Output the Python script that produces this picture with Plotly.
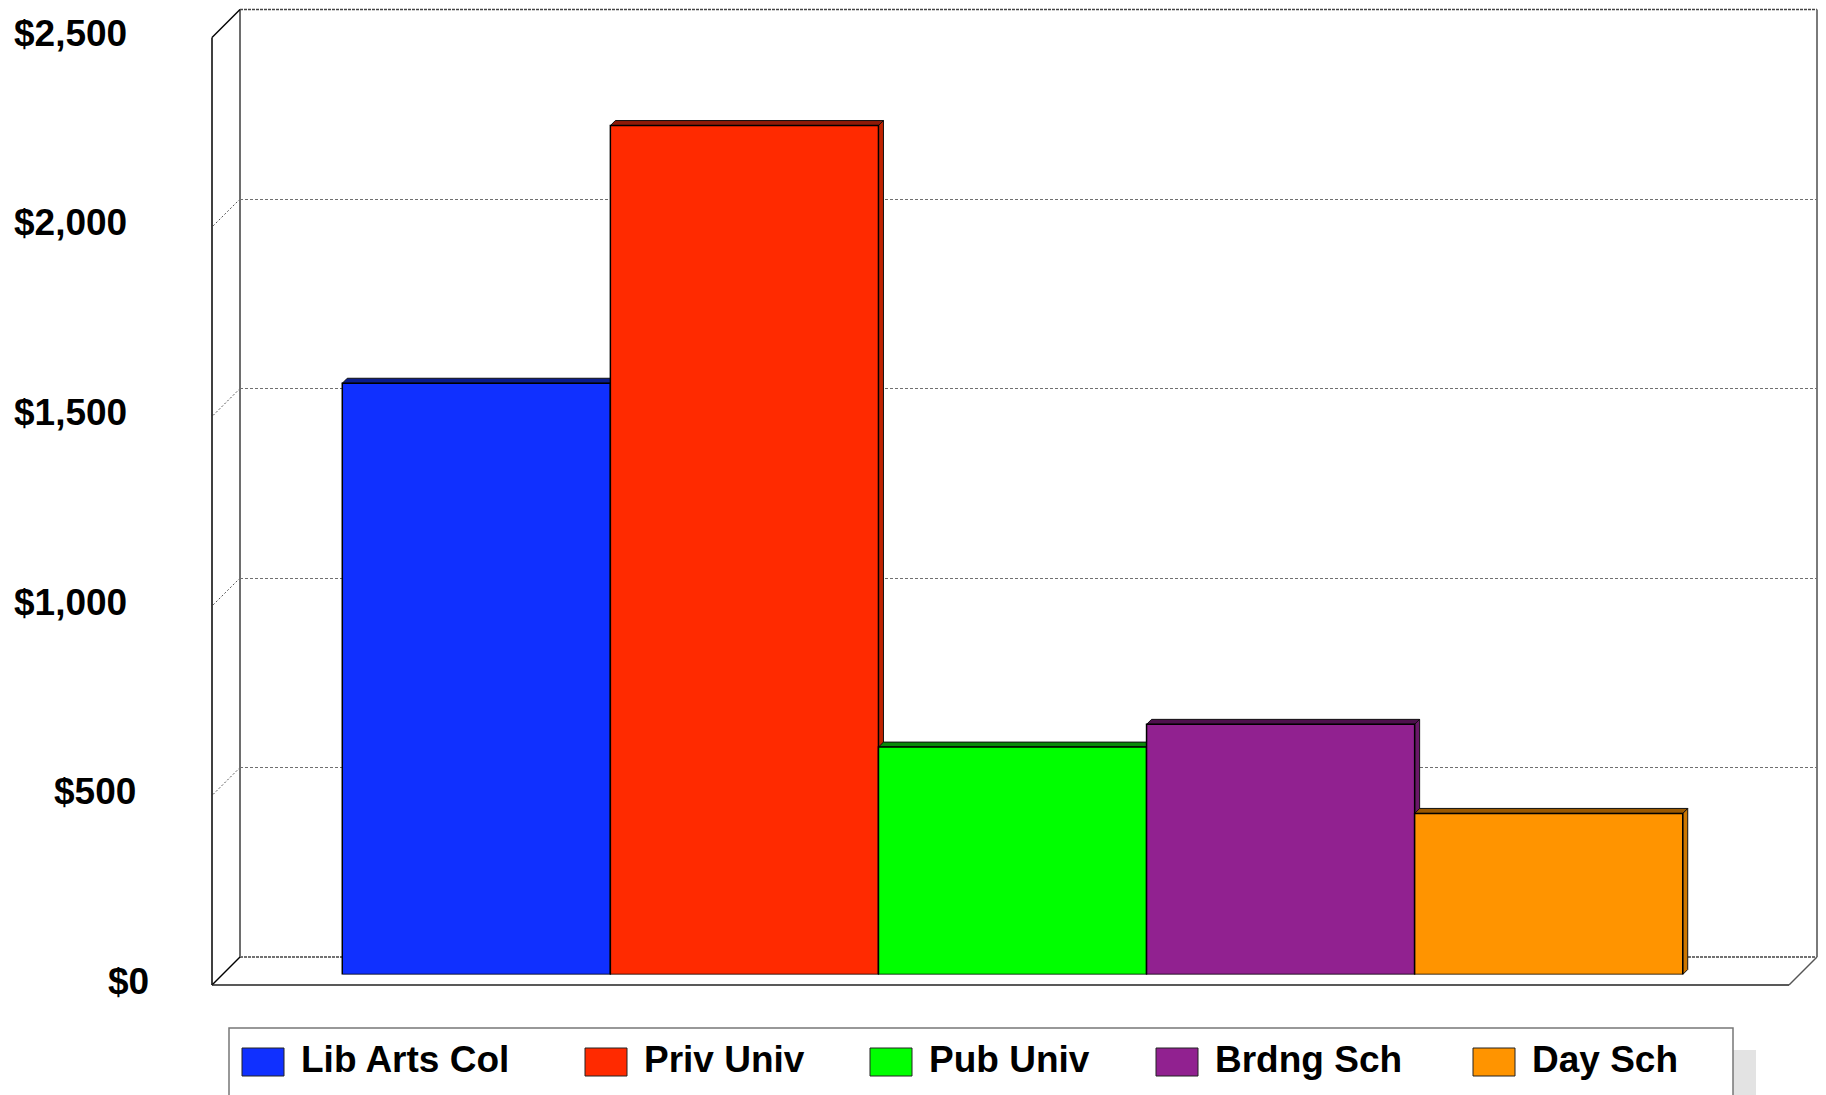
import plotly.graph_objects as go

# ---------------- data ----------------
categories = ["Lib Arts Col", "Priv Univ", "Pub Univ", "Brdng Sch", "Day Sch"]
values = [1560, 2240, 600, 660, 425]
colors = ["#1030FF", "#FF2A00", "#00FF00", "#912190", "#FF9400"]
top_colors = ["#0A1C8C", "#8E1A08", "#0A8A0A", "#4E104D", "#9A5800"]
side_colors = ["#0C24C0", "#C02200", "#00B000", "#6A1868", "#CC7600"]
tick_values = [0, 500, 1000, 1500, 2000, 2500]
tick_labels = ["$0", "$500", "$1,000", "$1,500", "$2,000", "$2,500"]
grid_values = [500, 1000, 1500, 2000]

# ---------------- layout geometry (window pixels) ----------------
W, H = 1826, 1095
OFF = 8                # page body margin
BACK_L, BACK_R, BACK_BOT, BACK_TOP = 240, 1817, 957, 9.5
DEPTH = 28             # depth of the floor / side wall
BAR_DX, BAR_DY = -16, 17.5  # bar plane offset from back wall
EXTR = 5               # bar extrusion depth in px
YMAX = 2500
BARGAP = 0.15
label_right = [151, 138, 129, 129, 129, 129]
legend_sw_x = [242, 585, 870, 1156, 1473]
FONT = "Liberation Sans, Arial, sans-serif"
FSIZE = 37


def fx(p):
    return (p - OFF) / W


def fy(p):
    return 1 - (p - OFF) / H


px_per_unit = (BACK_BOT - BACK_TOP) / YMAX
x_units_per_px = 1.0 / (BACK_R - BACK_L)

fig = go.Figure()

# back wall subplot (gridlines)
fig.add_trace(go.Scatter(x=[], y=[], xaxis="x", yaxis="y", showlegend=False, hoverinfo="skip"))

# extrusion faces (subplot 2, drawn under the bars)
n = len(values)
bw = (1 - BARGAP) / n
dxu = EXTR * x_units_per_px
dyu = EXTR / px_per_unit
for i, v in enumerate(values):
    xl = -(1 - BARGAP) / 2 + i * bw
    xr = xl + bw
    fig.add_trace(go.Scatter(
        x=[xr, xr + dxu, xr + dxu, xr, xr], y=[0, dyu, v + dyu, v, 0],
        fill="toself", fillcolor=side_colors[i], mode="lines",
        line=dict(color="#111111", width=1), xaxis="x2", yaxis="y2",
        showlegend=False, hoverinfo="skip"))
    fig.add_trace(go.Scatter(
        x=[xl, xl + dxu, xr + dxu, xr, xl], y=[v, v + dyu, v + dyu, v, v],
        fill="toself", fillcolor=top_colors[i], mode="lines",
        line=dict(color="#111111", width=1), xaxis="x2", yaxis="y2",
        showlegend=False, hoverinfo="skip"))

# front faces of bars
for i, (cat, v) in enumerate(zip(categories, values)):
    fig.add_trace(go.Bar(
        x=[0], y=[v], name=cat, marker=dict(color=colors[i], line=dict(color="#000000", width=1.5)),
        xaxis="x3", yaxis="y3", showlegend=False))

bar_xdom = [fx(BACK_L + BAR_DX), fx(BACK_R + BAR_DX)]
bar_ydom = [fy(BACK_BOT + BAR_DY), fy(BACK_TOP + BAR_DY)]

hidden = dict(visible=False, fixedrange=True)
fig.update_layout(
    width=W, height=H,
    margin=dict(l=0, r=0, t=0, b=0),
    paper_bgcolor="white", plot_bgcolor="rgba(0,0,0,0)",
    barmode="group", bargap=BARGAP, bargroupgap=0,
    showlegend=False,
    xaxis=dict(domain=[fx(BACK_L), fx(BACK_R)], range=[0, 1], visible=False, anchor="y"),
    yaxis=dict(domain=[fy(BACK_BOT), fy(BACK_TOP)], range=[0, YMAX], anchor="x",
               showgrid=True, gridcolor="#707070", gridwidth=1, griddash="3px,2px",
               tickvals=grid_values, showticklabels=False, ticks="", zeroline=False, showline=False),
    xaxis2=dict(domain=bar_xdom, range=[-0.5, 0.5], anchor="y2", **hidden),
    yaxis2=dict(domain=bar_ydom, range=[0, YMAX], anchor="x2", **hidden),
    xaxis3=dict(domain=bar_xdom, range=[-0.5, 0.5], anchor="y3", **hidden),
    yaxis3=dict(domain=bar_ydom, range=[0, YMAX], anchor="x3", **hidden),
)

shapes = []


def pline(x0, y0, x1, y1, color, width, dash="solid", layer="below"):
    shapes.append(dict(type="line", xref="paper", yref="paper",
                       x0=fx(x0), y0=fy(y0), x1=fx(x1), y1=fy(y1),
                       line=dict(color=color, width=width, dash=dash), layer=layer))


FL = BACK_L - DEPTH          # front-left x
FR = BACK_R - DEPTH          # front-right x
FB = BACK_BOT + DEPTH        # front bottom y
FT = BACK_TOP + DEPTH        # front top y (left wall)

# left wall diagonal gridlines (from axis values)
depth_units = DEPTH / px_per_unit
for v in grid_values:
    shapes.append(dict(type="line", xref="paper", yref="y", x0=fx(BACK_L), y0=v,
                       x1=fx(FL), y1=v - depth_units,
                       line=dict(color="#555555", width=1, dash="2px,2px"), layer="below"))

# back wall edges
pline(BACK_L, BACK_TOP, BACK_R, BACK_TOP, "#444444", 1.5, "3px,1px")
pline(BACK_L, BACK_BOT, BACK_R, BACK_BOT, "#444444", 1.5, "3px,1px")
pline(BACK_L, BACK_TOP, BACK_L, BACK_BOT, "#6E6E6E", 2)
pline(BACK_R, BACK_TOP, BACK_R, BACK_BOT, "#7A7A7A", 2)
# left wall
pline(FL, FT, FL, FB, "#000000", 1.5)
pline(FL, FT, BACK_L, BACK_TOP, "#000000", 1.5)
pline(FL, FB, BACK_L, BACK_BOT, "#000000", 1.5)
# floor
pline(FL, FB, FR, FB, "#222222", 1.5)
pline(FR, FB, BACK_R, BACK_BOT, "#555555", 1.5)

# legend frame + shadow
LEG_L, LEG_T, LEG_R = 229, 1028, 1733
SH = 23
shapes.append(dict(type="rect", xref="paper", yref="paper", x0=fx(LEG_L + SH), x1=fx(LEG_R + SH),
                   y0=fy(LEG_T + 22), y1=fy(H + 40), fillcolor="#E3E3E3", line=dict(width=0), layer="above"))
shapes.append(dict(type="rect", xref="paper", yref="paper", x0=fx(LEG_L), x1=fx(LEG_R),
                   y0=fy(LEG_T), y1=fy(H + 40), fillcolor="white",
                   line=dict(color="#777777", width=1.5), layer="above"))
for i, x0 in enumerate(legend_sw_x):
    shapes.append(dict(type="rect", xref="paper", yref="paper", x0=fx(x0), x1=fx(x0 + 42),
                       y0=fy(1076), y1=fy(1048), fillcolor=colors[i],
                       line=dict(color="#222222", width=1), layer="above"))

annotations = []
for i, x0 in enumerate(legend_sw_x):
    annotations.append(dict(xref="paper", yref="paper", x=fx(x0 + 57), y=fy(1059),
                            xanchor="left", yanchor="middle", showarrow=False,
                            text=categories[i],
                            font=dict(family=FONT, size=FSIZE, color="black", weight="bold")))

for v, lab, xr in zip(tick_values, tick_labels, label_right):
    annotations.append(dict(xref="paper", yref="y3", x=fx(xr), y=v, yshift=-6.5,
                            xanchor="right", yanchor="middle", showarrow=False, text=lab,
                            font=dict(family=FONT, size=FSIZE, color="black", weight="bold")))

fig.update_layout(shapes=shapes, annotations=annotations)

fig.write_html("out.html")
